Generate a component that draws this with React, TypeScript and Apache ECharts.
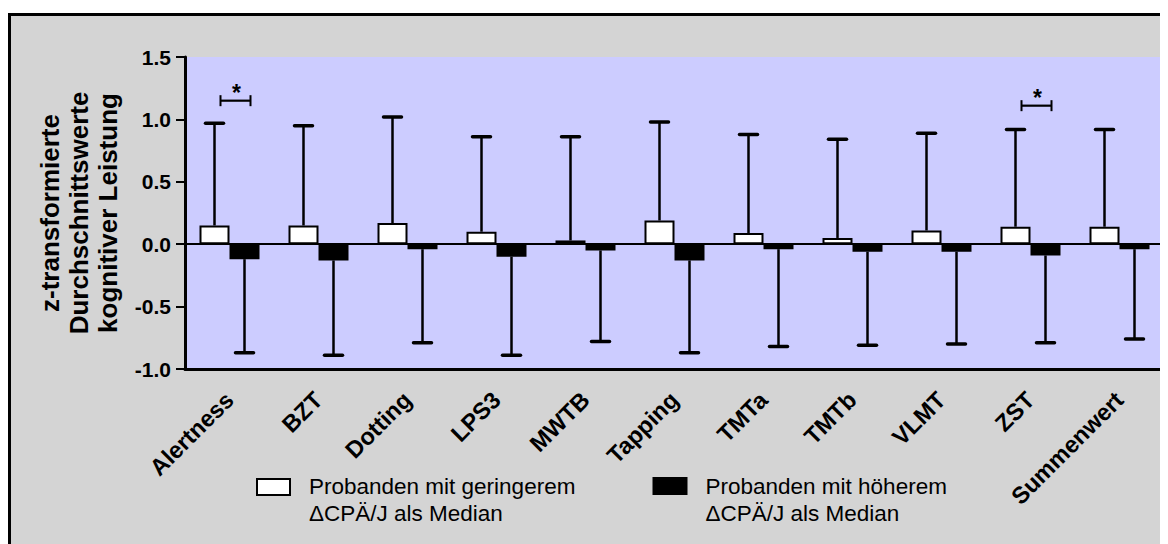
import React, { useEffect, useRef } from "react";
import * as echarts from "echarts";

// ---------- data ----------
const categories = ["Alertness", "BZT", "Dotting", "LPS3", "MWTB", "Tapping", "TMTa", "TMTb", "VLMT", "ZST", "Summenwert"];
const lowMeans = [0.15, 0.15, 0.17, 0.10, 0.03, 0.19, 0.09, 0.05, 0.11, 0.14, 0.14];
const lowUpper = [0.97, 0.95, 1.02, 0.86, 0.86, 0.98, 0.88, 0.84, 0.89, 0.92, 0.92];
const highMeans = [-0.12, -0.13, -0.04, -0.10, -0.05, -0.13, -0.04, -0.06, -0.06, -0.09, -0.04];
const highLower = [-0.87, -0.89, -0.79, -0.89, -0.78, -0.87, -0.82, -0.81, -0.80, -0.79, -0.76];
const sigIndex = [0, 9];
const sigLevel = [1.15, 1.11];
const sigLabel = ["*", "*"];
const yMin = -1.0;
const yMax = 1.5;
const yStep = 0.5;
const seriesNames = ["Probanden mit geringerem\n\u0394CP\u00c4/J als Median", "Probanden mit h\u00f6herem\n\u0394CP\u00c4/J als Median"];
const yAxisName = "z-transformierte\nDurchschnittswerte\nkognitiver Leistung";

// ---------- style ----------
const FONT = "Arial, 'Liberation Sans', sans-serif";
const BAR_W = 30;
const CAP_W = 18;
const PLOT_BG = "#ccccff";
const PAGE_BG = "#d4d4d4";

function errorRender(sign: number) {
  return (params: any, api: any) => {
    const idx = api.value(0);
    const v = api.value(1);
    const e = api.value(2);
    const p0 = api.coord([idx, v]);
    const p1 = api.coord([idx, e]);
    const x = p0[0] + (sign * BAR_W) / 2;
    return {
      type: "group",
      children: [
        { type: "line", shape: { x1: x, y1: p0[1], x2: x, y2: p1[1] }, style: { stroke: "#000", lineWidth: 2.5 } },
        { type: "line", shape: { x1: x - CAP_W / 2, y1: p1[1], x2: x + CAP_W / 2, y2: p1[1] }, style: { stroke: "#000", lineWidth: 3.5, lineCap: "round" } },
      ],
    };
  };
}

function bracketRender(params: any, api: any) {
  const idx = api.value(0);
  const y = api.value(1);
  const c = api.coord([idx, y]);
  const x1 = c[0] - 9;
  const x2 = c[0] + 21;
  const label = sigLabel[params.dataIndex];
  return {
    type: "group",
    children: [
      { type: "line", shape: { x1, y1: c[1], x2, y2: c[1] }, style: { stroke: "#000", lineWidth: 2.2 } },
      { type: "line", shape: { x1, y1: c[1] - 5.5, x2: x1, y2: c[1] + 5.5 }, style: { stroke: "#000", lineWidth: 2 } },
      { type: "line", shape: { x1: x2, y1: c[1] - 5.5, x2, y2: c[1] + 5.5 }, style: { stroke: "#000", lineWidth: 2 } },
      { type: "text", style: { text: label, x: (x1 + x2) / 2 + 1, y: c[1] - 8, textAlign: "center", textVerticalAlign: "middle", font: `bold 23px ${FONT}`, fill: "#000" } },
    ],
  };
}

export default function App() {
  const ref = useRef<HTMLDivElement>(null);

  useEffect(() => {
    if (!ref.current) return;
    const chart = echarts.init(ref.current, undefined, { renderer: "svg" });

    const legendItems = [
      { x: 249, y: 471, fill: "#fff", tx: 301 },
      { x: 645.5, y: 470, fill: "#000", tx: 697.5 },
    ];
    const graphic: any[] = [
      {
        type: "text",
        x: 71,
        y: 205,
        rotation: Math.PI / 2,
        style: {
          text: yAxisName,
          x: 0,
          y: 0,
          textAlign: "center",
          textVerticalAlign: "middle",
          font: `bold 26px ${FONT}`,
          lineHeight: 29,
          fill: "#000",
        },
      },
    ];
    legendItems.forEach((it, i) => {
      graphic.push({
        type: "rect",
        shape: { x: it.x, y: it.y, width: 33, height: 16 },
        style: { fill: it.fill, stroke: "#000", lineWidth: 2 },
      });
      graphic.push({
        type: "text",
        style: { text: seriesNames[i], x: it.tx, y: 465, font: `22.5px ${FONT}`, lineHeight: 27, fill: "#000", textVerticalAlign: "top" },
      });
    });

    chart.setOption({
      animation: false,
      backgroundColor: "transparent",
      grid: { left: 177, top: 49, width: 979, height: 312, show: true, backgroundColor: PLOT_BG, borderWidth: 0 },
      xAxis: {
        type: "category",
        data: categories,
        axisLine: { onZero: false, lineStyle: { color: "#000", width: 3 } },
        axisTick: { alignWithLabel: true, length: 9, lineStyle: { color: "#000", width: 2 } },
        axisLabel: { rotate: 45, margin: 27, interval: 0, color: "#000", fontWeight: "bold", fontSize: 23.5, fontFamily: FONT },
        splitLine: { show: false },
      },
      yAxis: {
        type: "value",
        min: yMin,
        max: yMax,
        interval: yStep,
        axisLine: { show: true, lineStyle: { color: "#000", width: 3 } },
        axisTick: { show: true, length: 9, lineStyle: { color: "#000", width: 2 } },
        axisLabel: { formatter: (v: number) => v.toFixed(1), margin: 14, color: "#000", fontWeight: "bold", fontSize: 21, fontFamily: FONT },
        splitLine: { show: false },
      },
      series: [
        {
          name: seriesNames[0],
          type: "bar",
          data: lowMeans,
          barWidth: BAR_W,
          barGap: "0%",
          itemStyle: { color: "#fff", borderColor: "#000", borderWidth: 2 },
          z: 2,
          markLine: {
            silent: true,
            symbol: "none",
            data: [{ yAxis: 0 }],
            lineStyle: { color: "#000", width: 2, type: "solid" },
            label: { show: false },
          },
        },
        {
          name: seriesNames[1],
          type: "bar",
          data: highMeans,
          barWidth: BAR_W,
          itemStyle: { color: "#000", borderColor: "#000", borderWidth: 2 },
          z: 2,
        },
        {
          type: "custom",
          renderItem: errorRender(-1),
          data: categories.map((_, i) => [i, lowMeans[i], lowUpper[i]]),
          encode: { x: 0, y: [1, 2] },
          z: 3,
          silent: true,
        },
        {
          type: "custom",
          renderItem: errorRender(1),
          data: categories.map((_, i) => [i, highMeans[i], highLower[i]]),
          encode: { x: 0, y: [1, 2] },
          z: 3,
          silent: true,
        },
        {
          type: "custom",
          renderItem: bracketRender,
          data: sigIndex.map((ci, i) => [ci, sigLevel[i]]),
          encode: { x: 0, y: 1 },
          z: 4,
          silent: true,
        },
      ],
      graphic,
    });

    return () => chart.dispose();
  }, []);

  return (
    <div style={{ position: "relative", width: 1160, height: 536, overflow: "hidden", background: "#fff" }}>
      <div
        style={{
          position: "absolute",
          left: 0,
          top: 5,
          width: 1200,
          height: 600,
          background: PAGE_BG,
          borderLeft: "3px solid #000",
          borderTop: "3px solid #000",
        }}
      />
      <div ref={ref} style={{ position: "absolute", left: 0, top: 0, width: 1160, height: 536 }} />
    </div>
  );
}
